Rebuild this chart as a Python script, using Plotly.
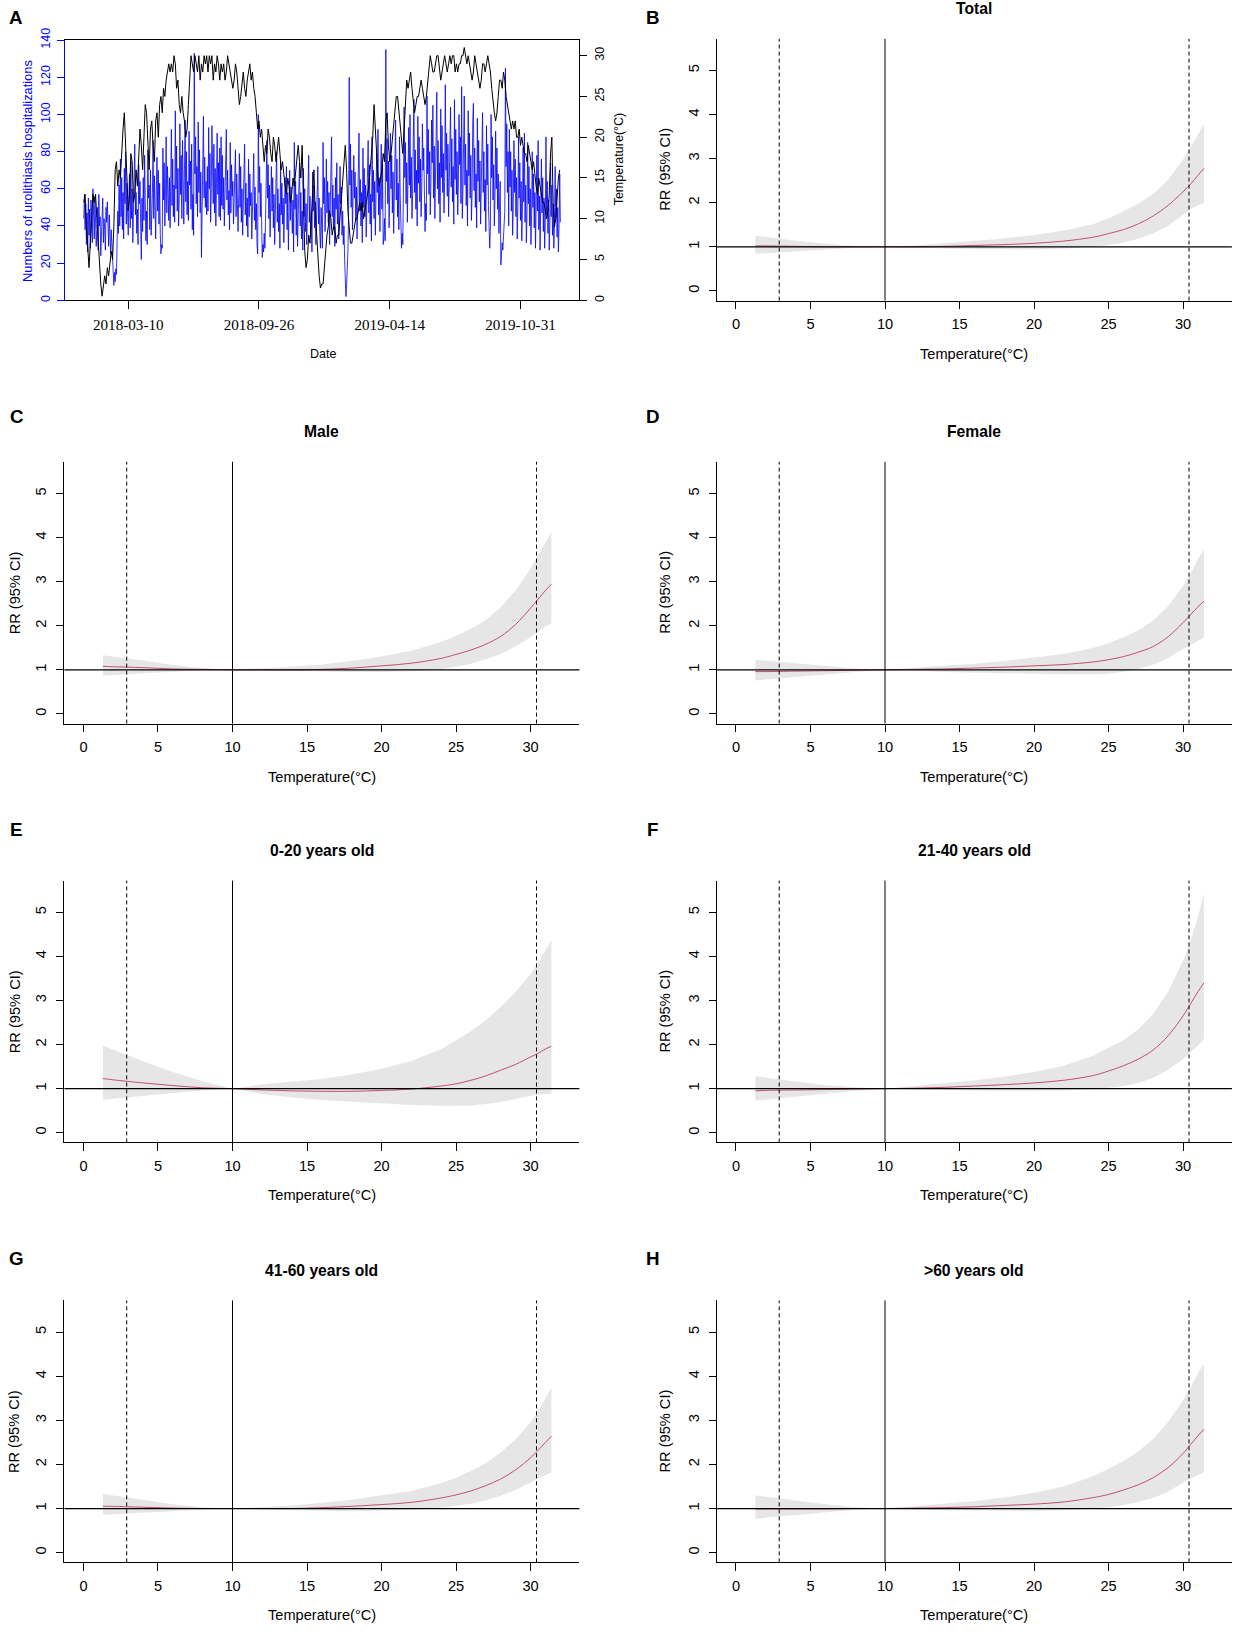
import plotly.graph_objects as go
import pandas as pd

W, H = 1238, 1637
S = 1637 / 1568  # reference measured in display units -> page pixels
Y_OFF, Y_SC = 11.0, 0.991  # empirical vertical calibration

# ---------------- Panel A data ----------------
start_date = "2018-01-01"
# mean temperature (°C), one reading every 2 days from 2018-01-01
temp_2018 = [12, 13, 9, 6, 4, 7, 11, 13, 12, 13,
             10, 7, 5, 2, 0.5, 2, 3, 2, 4, 3,
             5, 6, 5, 9, 16, 17, 14, 16, 15, 19,
             21, 23, 19, 14, 11, 13, 18, 17, 12, 13,
             16, 14, 18, 21, 19, 16, 20, 24, 23, 20,
             16, 21, 22, 19, 17, 22, 23, 20, 24, 25,
             23, 26, 25, 27, 28, 29, 28, 29, 28, 30,
             29, 26, 27, 24, 23, 25, 23, 22, 20, 21,
             24, 27, 30, 29, 28, 30, 29, 28, 30, 27,
             29, 28, 30, 29, 30, 28, 30, 29, 30, 27,
             29, 28, 30, 29, 27, 29, 28, 29, 27, 28,
             30, 29, 28, 27, 26, 27, 29, 28, 26, 24,
             25, 27, 28, 26, 25, 27, 28, 29, 27, 28,
             26, 25, 23, 21, 22, 20, 21, 19, 17, 19,
             18, 21, 20, 18, 17, 20, 19, 17, 19, 20,
             18, 16, 17, 15, 14, 13, 15, 14, 12, 13,
             15, 14, 16, 18, 19, 17, 15, 19, 13, 6,
             4, 5, 8, 7, 10, 13, 16, 11, 8, 6,
             3, 1.5, 2]
temp_2019 = [2, 4, 7, 8, 9, 11, 10, 8, 9, 9,
             7, 8, 8, 10, 13, 15, 17, 19, 16, 11,
             9, 7, 7, 8, 9, 10, 10, 11, 12, 11,
             12, 10, 11, 12, 13, 14, 16, 18, 20, 24,
             21, 17, 15, 14, 15, 16, 18, 17, 22, 23,
             19, 17, 18, 20, 21, 23, 25, 25, 23, 22,
             20, 18, 21, 25, 27, 26, 27, 28, 26, 24,
             23, 24, 25, 25, 26, 27, 26, 25, 24, 25,
             27, 29, 30, 29, 28, 28, 29, 30, 30, 28,
             27, 28, 29, 30, 29, 28, 29, 30, 29, 30,
             30, 28, 29, 28, 29, 29, 30, 30, 31, 30,
             29, 30, 29, 28, 27, 28, 30, 29, 28, 27,
             26, 27, 29, 29, 28, 29, 30, 29, 28, 26,
             24, 23, 22, 23, 25, 27, 27, 26, 28, 27,
             25, 24, 23, 22, 21, 22, 21, 22, 20, 20,
             21, 19, 20, 19, 18, 18, 17, 19, 18, 17,
             16, 17, 15, 14, 13, 15, 14, 13, 12, 12,
             11, 10, 11, 13, 18, 20, 12, 9, 10, 13,
             15, 16]

# daily urolithiasis hospitalizations, one row per week (Mon..Sun) from 2018-01-01
weekly_counts = [
    [44, 57, 38, 52, 30, 47, 26], [55, 35, 49, 28, 54, 41, 31], [60, 43, 33, 56, 47, 29, 38],
    [50, 27, 57, 40, 45, 24, 36], [48, 55, 31, 44, 38, 27, 50], [42, 53, 35, 29, 46, 30, 25],
    [38, 28, 21, 12, 8, 15, 10], [17, 14, 32, 48, 36, 62, 40], [76, 45, 66, 38, 58, 33, 71],
    [52, 80, 41, 63, 47, 35, 57], [68, 39, 75, 44, 60, 31, 50], [62, 84, 46, 58, 36, 49, 30],
    [73, 52, 64, 40, 22, 55, 37], [66, 43, 78, 34, 32, 48, 30], [81, 55, 62, 38, 70, 35, 46],
    [58, 86, 44, 67, 52, 33, 60], [77, 48, 70, 41, 63, 36, 25], [30, 28, 82, 54, 74, 40, 59],
    [88, 47, 72, 58, 43, 66, 39], [65, 92, 51, 76, 45, 62, 42], [102, 60, 83, 48, 71, 40, 55],
    [95, 57, 78, 44, 86, 50, 41], [70, 97, 53, 80, 46, 64, 43], [91, 62, 75, 49, 84, 38, 57],
    [35, 133, 68, 88, 52, 72, 45], [96, 58, 81, 47, 69, 23, 54], [86, 99, 55, 77, 50, 64, 46],
    [72, 48, 93, 60, 79, 42, 58], [94, 65, 52, 84, 47, 71, 40], [63, 90, 57, 74, 45, 82, 43],
    [88, 51, 78, 49, 66, 40, 60], [76, 92, 54, 70, 46, 59, 38], [85, 47, 73, 56, 64, 41, 55],
    [62, 81, 45, 68, 52, 37, 57], [79, 50, 72, 42, 60, 35, 48], [70, 84, 46, 63, 40, 55, 34],
    [76, 45, 68, 51, 58, 33, 47], [64, 79, 43, 61, 38, 52, 30], [25, 100, 58, 72, 45, 63, 31],
    [23, 30, 26, 36, 28, 42, 57], [86, 55, 73, 44, 62, 34, 50], [72, 48, 66, 39, 57, 30, 45],
    [68, 80, 42, 60, 37, 52, 28], [75, 46, 63, 41, 55, 31, 49], [66, 52, 72, 38, 58, 27, 44],
    [70, 43, 61, 50, 36, 54, 26], [85, 49, 64, 35, 57, 29, 46], [62, 74, 40, 58, 33, 48, 27],
    [71, 45, 60, 37, 52, 30, 55], [64, 78, 42, 56, 34, 47, 26], [69, 48, 62, 39, 53, 30, 44],
    [58, 72, 41, 55, 36, 28, 50], [32, 28, 85, 52, 66, 37, 48], [76, 47, 64, 42, 58, 30, 51],
    [70, 88, 45, 62, 38, 55, 29], [66, 49, 74, 41, 57, 33, 46], [72, 52, 61, 35, 48, 30, 40],
    [22, 10, 2, 8, 14, 26, 45], [120, 62, 84, 50, 70, 38, 56], [78, 55, 69, 43, 61, 33, 50],
    [74, 90, 48, 65, 40, 58, 31], [82, 50, 71, 45, 62, 34, 54], [68, 86, 47, 73, 41, 57, 32],
    [88, 53, 70, 44, 64, 35, 52], [79, 58, 92, 46, 66, 37, 55], [84, 49, 73, 30, 34, 44, 32],
    [135, 64, 87, 52, 75, 39, 58], [90, 60, 78, 47, 69, 36, 55], [82, 97, 54, 76, 45, 63, 38],
    [88, 57, 31, 28, 36, 30, 62], [104, 66, 85, 52, 74, 42, 59], [93, 62, 100, 55, 77, 44, 57],
    [86, 108, 58, 81, 49, 70, 40], [99, 63, 88, 53, 76, 45, 60], [95, 70, 82, 40, 37, 52, 43],
    [110, 68, 92, 57, 80, 46, 63], [97, 74, 105, 55, 83, 44, 61], [88, 112, 60, 86, 52, 74, 42],
    [103, 66, 94, 58, 79, 47, 64], [116, 70, 90, 56, 84, 45, 62], [95, 104, 61, 87, 53, 72, 41],
    [108, 65, 92, 57, 80, 46, 63], [100, 73, 88, 52, 115, 44, 60], [92, 110, 62, 84, 51, 70, 40],
    [102, 67, 90, 55, 78, 43, 58], [96, 106, 59, 82, 50, 68, 39], [98, 64, 86, 53, 75, 41, 57],
    [90, 101, 58, 80, 48, 65, 37], [94, 62, 84, 51, 30, 28, 40], [100, 66, 88, 54, 73, 40, 56],
    [91, 60, 82, 49, 68, 36, 52], [64, 19, 24, 31, 27, 35, 40], [48, 125, 72, 95, 58, 80, 40],
    [92, 61, 80, 48, 70, 35, 52], [86, 58, 76, 45, 66, 33, 50], [88, 55, 74, 43, 64, 32, 49],
    [82, 53, 90, 42, 62, 31, 47], [85, 52, 72, 40, 60, 30, 46], [80, 50, 68, 39, 58, 28, 45],
    [78, 48, 86, 38, 56, 27, 44], [76, 47, 66, 37, 55, 28, 43], [88, 46, 64, 36, 54, 27, 42],
    [74, 45, 62, 35, 52, 28, 41], [72, 44, 60, 34, 50, 26, 40],
]
counts_tail = [68, 42]

date_ticks = ["2018-03-10", "2018-09-26", "2019-04-14", "2019-10-31"]

# ---------------- Exposure-response data (panels B-H) ----------------
temp_grid = [1.3, 2, 4, 6, 8, 10, 12, 14, 16, 18, 20, 22, 24, 25, 26, 27, 28, 29, 30, 30.5, 31, 31.4]
mmt = 10.0
p2_5 = 2.9
p97_5 = 30.4

rr_total = [1.02, 1.02, 1.01, 1.0, 1.0, 1.0, 1.0, 1.01, 1.03, 1.05, 1.08, 1.13, 1.22, 1.3, 1.39, 1.52, 1.7, 1.94, 2.25, 2.42, 2.62, 2.78]
up_total = [1.25, 1.22, 1.14, 1.07, 1.02, 1.0, 1.03, 1.08, 1.13, 1.19, 1.27, 1.37, 1.52, 1.65, 1.8, 1.98, 2.2, 2.52, 2.98, 3.25, 3.55, 3.8]
lo_total = [0.84, 0.85, 0.89, 0.94, 0.98, 1.0, 0.98, 0.96, 0.95, 0.94, 0.94, 0.96, 1.0, 1.04, 1.1, 1.18, 1.3, 1.48, 1.72, 1.85, 1.94, 2.0]

rr_male = [1.08, 1.07, 1.05, 1.02, 1.01, 1.0, 1.0, 1.0, 1.01, 1.04, 1.09, 1.15, 1.26, 1.35, 1.45, 1.58, 1.76, 2.03, 2.4, 2.6, 2.8, 2.94]
up_male = [1.33, 1.3, 1.21, 1.11, 1.04, 1.0, 1.03, 1.07, 1.12, 1.2, 1.3, 1.43, 1.63, 1.77, 1.93, 2.13, 2.42, 2.8, 3.3, 3.6, 3.9, 4.12]
lo_male = [0.87, 0.88, 0.92, 0.96, 0.99, 1.0, 0.98, 0.97, 0.96, 0.95, 0.95, 0.97, 1.02, 1.07, 1.14, 1.24, 1.36, 1.53, 1.74, 1.86, 1.98, 2.05]

rr_female = [0.96, 0.96, 0.97, 0.98, 0.99, 1.0, 1.01, 1.02, 1.04, 1.06, 1.09, 1.12, 1.18, 1.23, 1.3, 1.4, 1.53, 1.75, 2.07, 2.25, 2.43, 2.56]
up_female = [1.23, 1.21, 1.14, 1.08, 1.03, 1.0, 1.04, 1.09, 1.14, 1.2, 1.28, 1.36, 1.5, 1.6, 1.74, 1.9, 2.12, 2.45, 2.9, 3.18, 3.5, 3.75]
lo_female = [0.76, 0.78, 0.83, 0.89, 0.95, 1.0, 0.98, 0.95, 0.93, 0.92, 0.91, 0.9, 0.9, 0.91, 0.95, 1.02, 1.12, 1.27, 1.47, 1.57, 1.66, 1.73]

rr_0_20 = [1.23, 1.2, 1.13, 1.07, 1.02, 1.0, 0.97, 0.95, 0.94, 0.94, 0.96, 0.99, 1.06, 1.11, 1.19, 1.29, 1.42, 1.55, 1.72, 1.8, 1.9, 1.96]
up_0_20 = [1.98, 1.88, 1.62, 1.38, 1.17, 1.0, 1.1, 1.16, 1.22, 1.32, 1.45, 1.63, 1.9, 2.1, 2.3, 2.55, 2.85, 3.2, 3.6, 3.85, 4.15, 4.37]
lo_0_20 = [0.75, 0.77, 0.84, 0.9, 0.96, 1.0, 0.88, 0.8, 0.74, 0.7, 0.67, 0.63, 0.61, 0.61, 0.62, 0.65, 0.7, 0.77, 0.84, 0.86, 0.88, 0.89]

rr_21_40 = [0.95, 0.96, 0.97, 0.98, 0.99, 1.0, 1.01, 1.03, 1.06, 1.09, 1.13, 1.19, 1.3, 1.4, 1.52, 1.67, 1.88, 2.2, 2.65, 2.92, 3.2, 3.4]
up_21_40 = [1.29, 1.25, 1.16, 1.08, 1.03, 1.0, 1.06, 1.12, 1.19, 1.27, 1.38, 1.52, 1.75, 1.93, 2.1, 2.35, 2.7, 3.2, 3.9, 4.35, 4.9, 5.42]
lo_21_40 = [0.73, 0.75, 0.81, 0.88, 0.95, 1.0, 0.98, 0.97, 0.96, 0.95, 0.95, 0.96, 0.99, 1.02, 1.06, 1.13, 1.25, 1.43, 1.67, 1.82, 1.98, 2.12]

rr_41_60 = [1.05, 1.05, 1.03, 1.01, 1.0, 1.0, 1.0, 1.0, 1.02, 1.05, 1.09, 1.14, 1.24, 1.31, 1.4, 1.52, 1.67, 1.88, 2.15, 2.32, 2.5, 2.64]
up_41_60 = [1.33, 1.3, 1.2, 1.1, 1.03, 1.0, 1.03, 1.07, 1.13, 1.2, 1.3, 1.4, 1.58, 1.7, 1.85, 2.03, 2.27, 2.57, 2.95, 3.2, 3.5, 3.75]
lo_41_60 = [0.86, 0.87, 0.9, 0.94, 0.98, 1.0, 0.98, 0.96, 0.95, 0.94, 0.95, 0.97, 1.02, 1.06, 1.11, 1.19, 1.29, 1.42, 1.59, 1.68, 1.76, 1.82]

rr_60p = [0.99, 0.99, 0.99, 0.99, 1.0, 1.0, 1.01, 1.02, 1.04, 1.07, 1.1, 1.15, 1.25, 1.32, 1.42, 1.54, 1.7, 1.93, 2.25, 2.45, 2.65, 2.8]
up_60p = [1.3, 1.27, 1.18, 1.1, 1.03, 1.0, 1.05, 1.11, 1.17, 1.25, 1.36, 1.5, 1.74, 1.9, 2.08, 2.3, 2.58, 2.97, 3.45, 3.75, 4.05, 4.3]
lo_60p = [0.77, 0.79, 0.85, 0.91, 0.97, 1.0, 0.98, 0.96, 0.95, 0.95, 0.95, 0.96, 1.0, 1.03, 1.08, 1.15, 1.24, 1.38, 1.59, 1.68, 1.76, 1.82]

panel_titles = ["Total", "Male", "Female", "0-20 years old", "21-40 years old", "41-60 years old", ">60 years old"]
panel_letters = ["B", "C", "D", "E", "F", "G", "H"]

# ---------------- Figure ----------------
SANS = "Liberation Sans, Arial, sans-serif"
SERIF = "Liberation Serif, Times New Roman, serif"

fig = go.Figure()

temps = temp_2018 + temp_2019
temp_dates = pd.date_range(start_date, periods=len(temps), freq="2D")
counts = [v for wk in weekly_counts for v in wk] + counts_tail
count_dates = pd.date_range(start_date, periods=len(counts), freq="D")

def px_x(p):
    return p * S / W

def px_y(p):
    q = (p - Y_OFF) / Y_SC
    return 1 - q * S / H

def fs(v):
    return v * S

# Panel A
fig.add_trace(go.Scatter(x=count_dates, y=counts, mode="lines",
                         line=dict(color="#0000FF", width=0.8), xaxis="x", yaxis="y",
                         showlegend=False, hoverinfo="skip"))
fig.add_trace(go.Scatter(x=temp_dates, y=temps, mode="lines",
                         line=dict(color="#000000", width=1), xaxis="x", yaxis="y2",
                         showlegend=False, hoverinfo="skip"))

d0 = pd.Timestamp(count_dates[0])
d1 = pd.Timestamp(count_dates[-1])
pad = (d1 - d0) * 0.04
layout = dict(
    width=W, height=H, margin=dict(l=0, r=0, t=0, b=0),
    paper_bgcolor="white", plot_bgcolor="white", showlegend=False,
    font=dict(family=SANS, color="black", size=fs(14)),
)
layout["xaxis"] = dict(
    domain=[px_x(62), px_x(555)], anchor="y", type="date",
    range=[d0 - pad, d1 + pad], showline=True, mirror=True, linecolor="black", linewidth=1,
    ticks="outside", ticklen=fs(7), tickcolor="black", tickvals=date_ticks, ticktext=date_ticks,
    tickfont=dict(family=SERIF, size=fs(14.5), color="black"), showgrid=False, zeroline=False,
    ticklabelstandoff=3,
)
layout["yaxis"] = dict(
    domain=[px_y(287), px_y(38)], anchor="x", range=[0, 140],
    showline=True, linecolor="#0000FF", linewidth=1, ticks="outside", ticklen=fs(6), tickcolor="#0000FF",
    tickvals=list(range(0, 141, 20)), tickangle=-90, ticklabelstandoff=2,
    tickfont=dict(size=fs(12), color="#0000FF"), showgrid=False, zeroline=False,
)
layout["yaxis2"] = dict(
    overlaying="y", side="right", anchor="x", range=[0, 31.9],
    showline=True, linecolor="black", linewidth=1, ticks="outside", ticklen=fs(6), tickcolor="black",
    tickvals=list(range(0, 31, 5)), tickangle=-90, ticklabelstandoff=2,
    tickfont=dict(size=fs(12), color="black"), showgrid=False, zeroline=False,
)

annotations = []
shapes = []

annotations.append(dict(text="<b>A</b>", x=px_x(15), y=px_y(16), xref="paper", yref="paper",
                        showarrow=False, font=dict(size=fs(18)), xanchor="center", yanchor="middle"))
annotations.append(dict(text="Date", x=px_x(309), y=px_y(338), xref="paper", yref="paper",
                        showarrow=False, font=dict(size=fs(12)), xanchor="center", yanchor="middle"))
annotations.append(dict(text="Numbers of urolithiasis hospitalizations", x=px_x(27), y=px_y(163),
                        xref="paper", yref="paper", showarrow=False, textangle=-90,
                        font=dict(size=fs(12.3), color="#0000FF"), xanchor="center", yanchor="middle"))
annotations.append(dict(text="Temperature(°C)", x=px_x(593), y=px_y(152),
                        xref="paper", yref="paper", showarrow=False, textangle=-90,
                        font=dict(size=fs(12)), xanchor="center", yanchor="middle"))

rr_sets = [(rr_total, up_total, lo_total), (rr_male, up_male, lo_male),
           (rr_female, up_female, lo_female), (rr_0_20, up_0_20, lo_0_20),
           (rr_21_40, up_21_40, lo_21_40), (rr_41_60, up_41_60, lo_41_60),
           (rr_60p, up_60p, lo_60p)]
positions = [(1, 0), (0, 1), (1, 1), (0, 2), (1, 2), (0, 3), (1, 3)]
row_off = [0, 405, 806, 1208]
col_x = [(61.7, 555.0), (686.7, 1180.0)]
letter_y = [16, 398, 794, 1204]

for i, ((rr, up, lo), (col, row)) in enumerate(zip(rr_sets, positions)):
    xi = i + 2
    yi = i + 3
    xname, yname = f"x{xi}", f"y{yi}"
    off = row_off[row]
    x0p, x1p = col_x[col]
    top, bot = 36.6 + off, 287.3 + off
    fig.add_trace(go.Scatter(x=temp_grid + temp_grid[::-1], y=up + lo[::-1], mode="lines",
                             fill="toself", fillcolor="#E6E6E6", line=dict(width=0, color="#E6E6E6"),
                             xaxis=xname, yaxis=yname, showlegend=False, hoverinfo="skip"))
    fig.add_trace(go.Scatter(x=temp_grid, y=rr, mode="lines", line=dict(color="#C0506A", width=1, shape="spline"),
                             xaxis=xname, yaxis=yname, showlegend=False, hoverinfo="skip"))
    layout[f"xaxis{xi}"] = dict(
        domain=[px_x(x0p), px_x(x1p)], anchor=yname, range=[-1.28, 33.28],
        showline=True, linecolor="black", linewidth=1, ticks="outside", ticklen=fs(7), tickcolor="black",
        tickvals=[0, 5, 10, 15, 20, 25, 30], tickfont=dict(size=fs(14)), showgrid=False, zeroline=False,
        ticklabelstandoff=3,
    )
    layout[f"yaxis{yi}"] = dict(
        domain=[px_y(bot), px_y(top)], anchor=xname, range=[-0.22, 5.72],
        showline=True, linecolor="black", linewidth=1, ticks="outside", ticklen=fs(7), tickcolor="black",
        tickvals=[0, 1, 2, 3, 4, 5], tickangle=-90, tickfont=dict(size=fs(14)), ticklabelstandoff=4,
        showgrid=False, zeroline=False,
    )
    # reference lines
    shapes.append(dict(type="line", xref=f"{xname} domain", yref=yname, x0=0, x1=1, y0=1, y1=1,
                       line=dict(color="black", width=1.2), layer="above"))
    shapes.append(dict(type="line", xref=xname, yref=f"{yname} domain", x0=mmt, x1=mmt, y0=0, y1=1,
                       line=dict(color="black", width=1), layer="above"))
    for v in (p2_5, p97_5):
        shapes.append(dict(type="line", xref=xname, yref=f"{yname} domain", x0=v, x1=v, y0=0, y1=1,
                           line=dict(color="black", width=1, dash="4px,3px"), layer="above"))
    cx = (x0p + x1p) / 2
    annotations.append(dict(text=f"<b>{panel_titles[i]}</b>", x=px_x(cx), y=px_y(8 + off),
                            xref="paper", yref="paper", showarrow=False, font=dict(size=fs(15)),
                            xanchor="center", yanchor="middle"))
    annotations.append(dict(text="Temperature(°C)", x=px_x(cx), y=px_y(338 + off),
                            xref="paper", yref="paper", showarrow=False, font=dict(size=fs(14)),
                            xanchor="center", yanchor="middle"))
    annotations.append(dict(text="RR (95% CI)", x=px_x(14 if col == 0 else 637), y=px_y(162 + off),
                            xref="paper", yref="paper", showarrow=False, textangle=-90,
                            font=dict(size=fs(14)), xanchor="center", yanchor="middle"))
    annotations.append(dict(text=f"<b>{panel_letters[i]}</b>", x=px_x(16 if col == 0 else 625),
                            y=px_y(letter_y[row]), xref="paper", yref="paper", showarrow=False,
                            font=dict(size=fs(18)), xanchor="center", yanchor="middle"))

layout["annotations"] = annotations
layout["shapes"] = shapes
fig.update_layout(**layout)
fig.write_html("out.html", config={"displayModeBar": False},
               post_script="document.body.style.margin='0';document.body.style.padding='0';"
                           "document.documentElement.style.overflow='hidden';")
